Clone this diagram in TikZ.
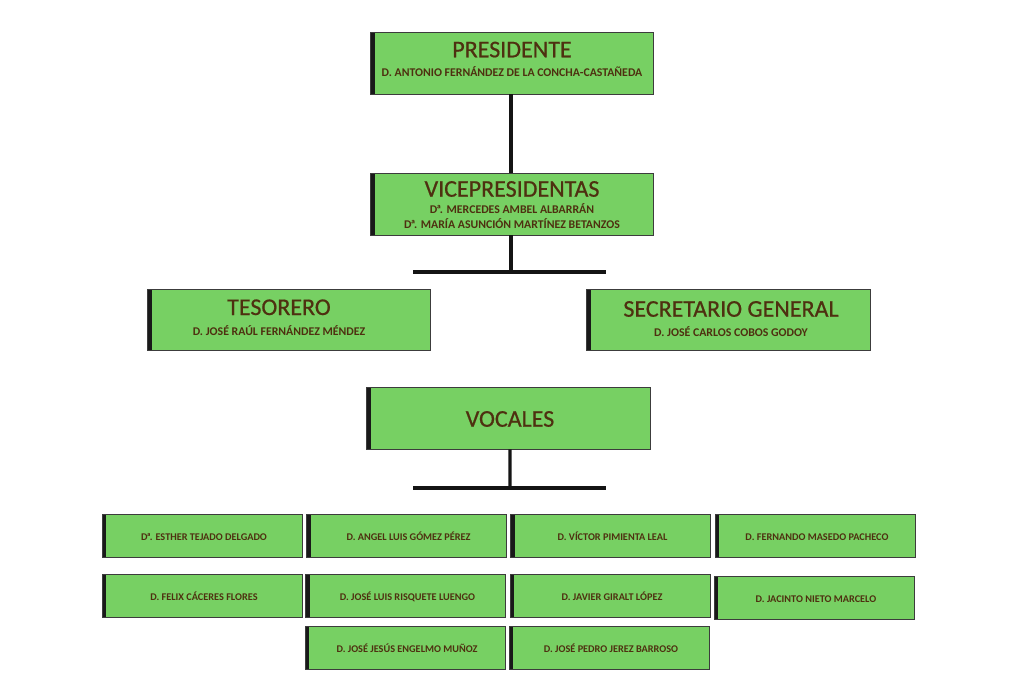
\documentclass[tikz,border=0pt]{standalone}
\usepackage{fontspec}
\setmainfont{Carlito}
\newfontface\heavyttl{Carlito}[FakeBold=0.6]
\definecolor{boxgreen}{RGB}{119,208,99}
\definecolor{txt}{RGB}{78,48,16}
\definecolor{edge}{RGB}{60,60,60}
\newcommand{\Da}{D\kern-0.08emª\kern-0.12em}
\tikzset{
  box/.style={draw=edge, line width=0.6pt, fill=boxgreen, inner sep=0pt,
    path picture={\fill[black!90] (path picture bounding box.south west) rectangle ([xshift=3.2pt]path picture bounding box.north west);}},
  bigbox/.style={box, minimum width=212.5pt, minimum height=46.5pt},
  smallbox/.style={box, minimum width=150pt, minimum height=32.2pt},
  ttl/.style={anchor=base, inner sep=0pt, text=txt, font=\fontsize{18}{20}\heavyttl},
  sbt/.style={anchor=base, inner sep=0pt, text=txt, font=\fontsize{8.85}{11}\selectfont\bfseries},
  sml/.style={anchor=base, inner sep=0pt, text=txt, font=\fontsize{7.7}{9}\selectfont\bfseries},
  conn/.style={line width=2.4pt, draw=black!92},
}
\begin{document}
\begin{tikzpicture}[x=0.75pt,y=-0.75pt]
\useasboundingbox (0,0) rectangle (1024,683);
% main boxes
\node[bigbox] (pres) at (512,63) {};
\node[bigbox] (vice) at (512,204) {};
\node[bigbox, minimum height=45.8pt] (teso) at (289,319.5) {};
\node[bigbox, minimum height=45.8pt] (secr) at (728.5,319.5) {};
\node[bigbox] (voc) at (508.5,418) {};
% texts of main boxes
\node[ttl] (presT) at (512,57.3) {PRESIDENTE};
\node[sbt] (presS) at (512,76.3) {D. ANTONIO FERNÁNDEZ DE LA CONCHA-CASTAÑEDA};
\node[ttl] (viceT) at (512,196.7) {VICEPRESIDENTAS};
\node[sbt] (viceS1) at (512,213.3) {\Da. MERCEDES AMBEL ALBARRÁN};
\node[sbt] (viceS2) at (512,228.2) {\Da. MARÍA ASUNCIÓN MARTÍNEZ BETANZOS};
\node[ttl] (tesoT) at (279,315) {TESORERO};
\node[sbt] (tesoS) at (279,335.7) {D. JOSÉ RAÚL FERNÁNDEZ MÉNDEZ};
\node[ttl] (secrT) at (731,316.7) {SECRETARIO GENERAL};
\node[sbt] (secrS) at (731,336) {D. JOSÉ CARLOS COBOS GODOY};
\node[ttl] (vocT) at (510,426.7) {VOCALES};
% connectors
\coordinate (b1l) at (413,272);
\coordinate (b1r) at (606,272);
\coordinate (b1m) at (511,272);
\coordinate (b2l) at (413,488);
\coordinate (b2r) at (606,488);
\coordinate (b2m) at (510,488);
\draw[conn] ([xshift=-0.75pt]pres.south) -- ([xshift=-0.75pt]vice.north);
\draw[conn] ([xshift=-0.75pt]vice.south) -- (b1m);
\draw[conn] (b1l) -- (b1r);
\draw[conn] ([xshift=1.1pt]voc.south) -- (b2m);
\draw[conn] (b2l) -- (b2r);
% vocales boxes
\node[smallbox] (v1) at (202,535.5) {};
\node[smallbox] (v2) at (406.5,535.5) {};
\node[smallbox] (v3) at (610.5,535.5) {};
\node[smallbox] (v4) at (815,535.5) {};
\node[smallbox] (v5) at (202,596) {};
\node[smallbox] (v6) at (405.5,596) {};
\node[smallbox] (v7) at (610,596) {};
\node[smallbox] (v8) at (814,597.5) {};
\node[smallbox] (v9) at (405,647.5) {};
\node[smallbox] (v10) at (609,647.5) {};
% vocales texts
\node[sml] (v1t) at (204,540) {\Da. ESTHER TEJADO DELGADO};
\node[sml] (v2t) at (408.5,540) {D. ANGEL LUIS GÓMEZ PÉREZ};
\node[sml] (v3t) at (612.5,540) {D. VÍCTOR PIMIENTA LEAL};
\node[sml] (v4t) at (817,540) {D. FERNANDO MASEDO PACHECO};
\node[sml] (v5t) at (204,600.7) {D. FELIX CÁCERES FLORES};
\node[sml] (v6t) at (407.5,600.7) {D. JOSÉ LUIS RISQUETE LUENGO};
\node[sml] (v7t) at (612,600.7) {D. JAVIER GIRALT LÓPEZ};
\node[sml] (v8t) at (816,602.3) {D. JACINTO NIETO MARCELO};
\node[sml] (v9t) at (407,652.5) {D. JOSÉ JESÚS ENGELMO MUÑOZ};
\node[sml] (v10t) at (611,652.5) {D. JOSÉ PEDRO JEREZ BARROSO};
\end{tikzpicture}
\end{document}
